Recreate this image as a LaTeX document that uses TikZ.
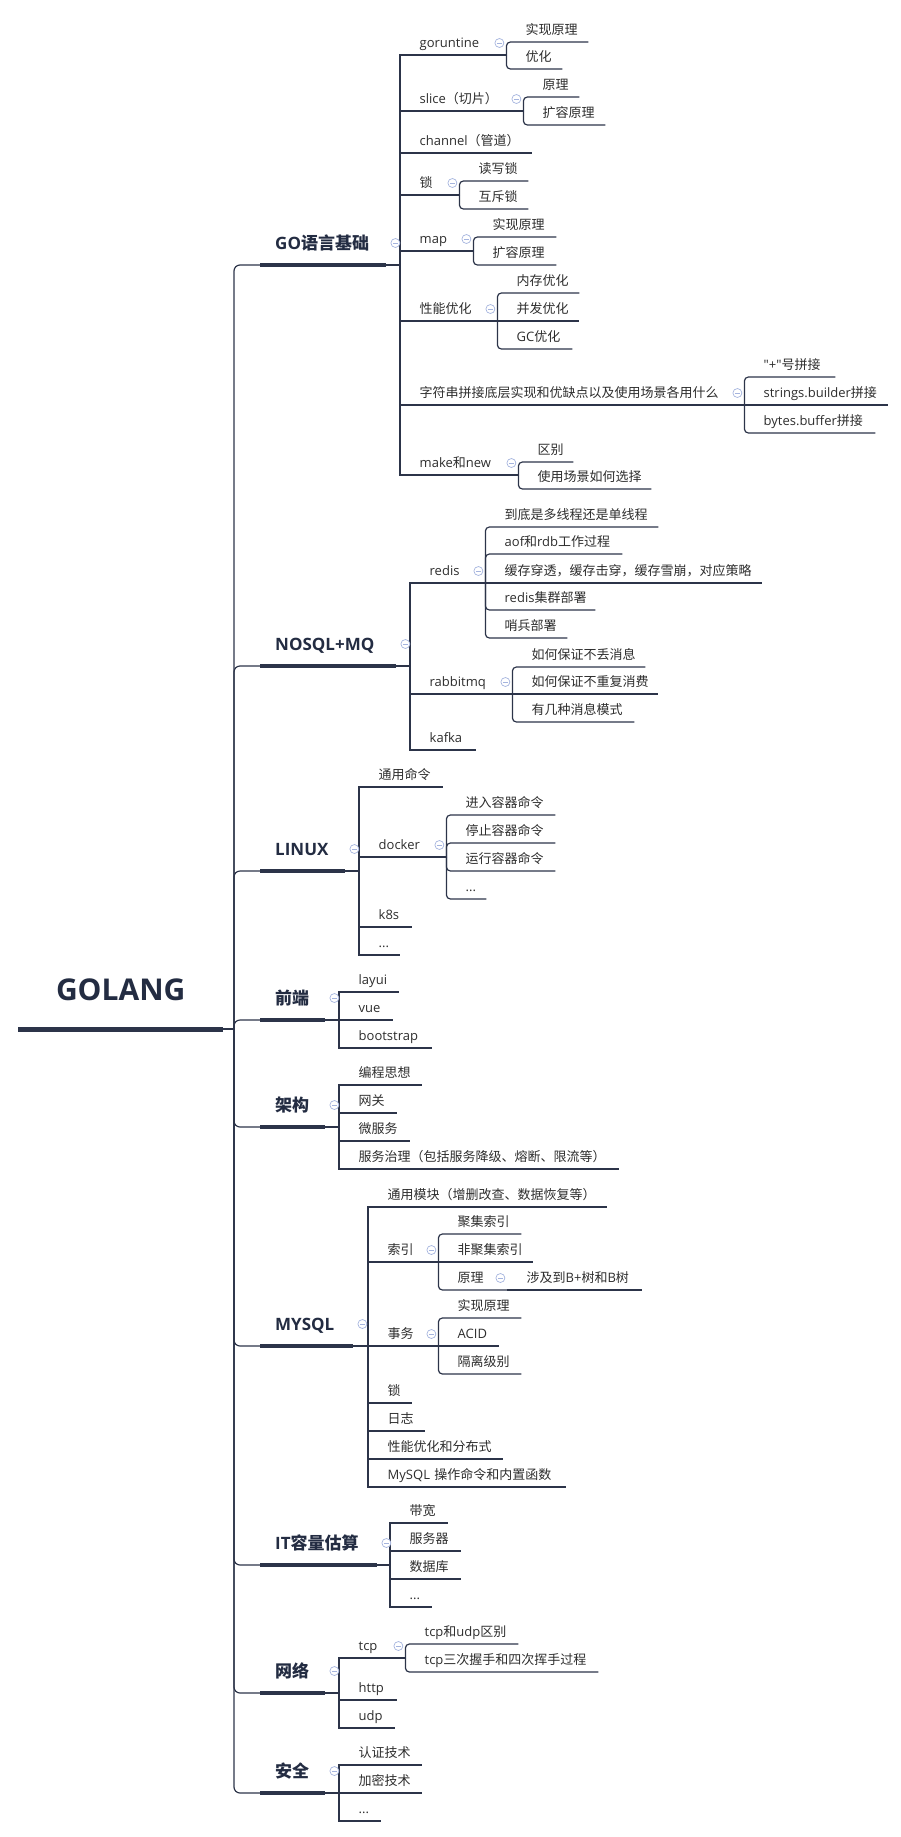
\documentclass[tikz,border=0pt]{standalone}
\usepackage{fontspec}
\setmainfont{Noto Sans CJK SC}
\newfontfamily\lat{Open Sans}
\usepackage{xcolor}
\usepackage{tikz}
\definecolor{ln}{RGB}{44,52,73}
\definecolor{tx}{RGB}{45,45,45}
\definecolor{hd}{RGB}{35,44,66}
\definecolor{fd}{RGB}{165,180,222}
\tikzset{
  root/.style={anchor=south west, inner sep=0pt, text width=#1pt, align=center,
    font=\lat\bfseries\fontsize{30}{34}\selectfont, text=hd, text height=22pt, text depth=28pt},
  branch/.style={anchor=south west, inner sep=0pt, text width=#1pt, align=left,
    font=\bfseries\fontsize{17}{20}\selectfont, text=hd, text height=14pt, text depth=15.5pt,
    execute at begin node={\hspace*{15pt}}},
  topic/.style={anchor=south west, inner sep=0pt, text width=#1pt, align=left,
    font=\fontsize{13}{15}\selectfont, text=tx, text height=10pt, text depth=7pt,
    execute at begin node={\hspace*{19.5pt}}},
  fold/.style={circle, draw=fd, fill=white, line width=0.7pt, minimum size=9pt, inner sep=0pt,
    path picture={\draw[fd, line width=0.7pt] ([xshift=-2.3pt]path picture bounding box.center)
      -- ([xshift=2.3pt]path picture bounding box.center);}},
  link/.style={draw=ln, line width=1.2pt},
  trunk/.style={link, rounded corners=6pt},
  twig/.style={link, rounded corners=4pt},
  bar/.style={draw=ln, line width=4pt},
  rootbar/.style={draw=ln, line width=5pt},
}
\begin{document}
\begin{tikzpicture}[x=1pt,y=-1pt]
\useasboundingbox (0,0) rectangle (901,1837);
% root and main branches
\node[root=205] (golang) at (18,1029) {GOLANG};
\coordinate (hub) at (234,1029);
\node[branch=126] (go) at (260,265) {{\lat GO}语言基础};
\node[branch=136] (nosql) at (260,666) {\lat NOSQL+MQ};
\node[branch=85] (linux) at (260,871) {\lat LINUX};
\node[branch=65] (web) at (260,1020) {前端};
\node[branch=65] (arch) at (260,1127) {架构};
\node[branch=93] (mysql) at (260,1346) {\lat MYSQL};
\node[branch=117] (itcap) at (260,1565) {{\lat IT}容量估算};
\node[branch=65] (net) at (260,1693) {网络};
\node[branch=65] (sec) at (260,1793) {安全};

% GO
\node[topic=106] (gort) at (400,55) {\lat goruntine};
\node[topic=82] (gort1) at (506,42) {实现原理};
\node[topic=56] (gort2) at (506,69) {优化};
\node[topic=123] (slice) at (400,111) {{\lat slice}（切片）};
\node[topic=56] (slice1) at (523,97) {原理};
\node[topic=82] (slice2) at (523,125) {扩容原理};
\node[topic=132] (chan) at (400,153) {{\lat channel}（管道）};
\node[topic=59] (lock) at (400,195) {锁};
\node[topic=69] (lock1) at (459,181) {读写锁};
\node[topic=69] (lock2) at (459,209) {互斥锁};
\node[topic=73] (map) at (400,251) {\lat map};
\node[topic=83] (map1) at (473,237) {实现原理};
\node[topic=83] (map2) at (473,265) {扩容原理};
\node[topic=97] (perf) at (400,321) {性能优化};
\node[topic=82] (perf1) at (497,293) {内存优化};
\node[topic=82] (perf2) at (497,321) {并发优化};
\node[topic=75] (perf3) at (497,349) {{\lat GC}优化};
\node[topic=344] (str) at (400,405) {字符串拼接底层实现和优缺点以及使用场景各用什么};
\node[topic=91] (str1) at (744,377) {{\lat "+"}号拼接};
\node[topic=144] (str2) at (744,405) {{\lat strings.builder}拼接};
\node[topic=131] (str3) at (744,433) {{\lat bytes.buffer}拼接};
\node[topic=118] (mk) at (400,475) {{\lat make}和{\lat new}};
\node[topic=55] (mk1) at (518,462) {区别};
\node[topic=133] (mk2) at (518,489) {使用场景如何选择};

% NOSQL+MQ
\node[topic=75] (redis) at (410,583) {\lat redis};
\node[topic=173] (redis1) at (485,527) {到底是多线程还是单线程};
\node[topic=137] (redis2) at (485,554) {{\lat aof}和{\lat rdb}工作过程};
\node[topic=277] (redis3) at (485,583) {缓存穿透，缓存击穿，缓存雪崩，对应策略};
\node[topic=110] (redis4) at (485,610) {{\lat redis}集群部署};
\node[topic=82] (redis5) at (485,638) {哨兵部署};
\node[topic=102] (rabbit) at (410,694) {\lat rabbitmq};
\node[topic=133] (rabbit1) at (512,667) {如何保证不丢消息};
\node[topic=146] (rabbit2) at (512,694) {如何保证不重复消费};
\node[topic=122] (rabbit3) at (512,722) {有几种消息模式};
\node[topic=66] (kafka) at (410,750) {\lat kafka};

% LINUX
\node[topic=84] (cmd) at (359,787) {通用命令};
\node[topic=87] (docker) at (359,857) {\lat docker};
\node[topic=109] (docker1) at (446,815) {进入容器命令};
\node[topic=109] (docker2) at (446,843) {停止容器命令};
\node[topic=109] (docker3) at (446,871) {运行容器命令};
\node[topic=40] (docker4) at (446,899) {\lat ...};
\node[topic=53] (k8s) at (359,927) {\lat k8s};
\node[topic=41] (lxdots) at (359,955) {\lat ...};

% 前端 / 架构
\node[topic=60] (layui) at (339,992) {\lat layui};
\node[topic=54] (vue) at (339,1020) {\lat vue};
\node[topic=93] (boot) at (339,1048) {\lat bootstrap};
\node[topic=83] (idea) at (339,1085) {编程思想};
\node[topic=58] (gw) at (339,1113) {网关};
\node[topic=71] (micro) at (339,1141) {微服务};
\node[topic=280] (gov) at (339,1169) {服务治理（包括服务降级、熔断、限流等）};

% MYSQL
\node[topic=239] (crud) at (368,1207) {通用模块（增删改查、数据恢复等）};
\node[topic=70] (idx) at (368,1262) {索引};
\node[topic=83] (idx1) at (438,1234) {聚集索引};
\node[topic=95] (idx2) at (438,1262) {非聚集索引};
\node[topic=69] (idx3) at (438,1290) {原理};
\node[topic=135] (bplus) at (507,1290) {涉及到{\lat B+}树和{\lat B}树};
\node[topic=70] (tx) at (368,1346) {事务};
\node[topic=83] (tx1) at (438,1318) {实现原理};
\node[topic=61] (tx2) at (438,1346) {\lat ACID};
\node[topic=83] (tx3) at (438,1374) {隔离级别};
\node[topic=44] (mlock) at (368,1403) {锁};
\node[topic=57] (mlog) at (368,1431) {日志};
\node[topic=135] (dist) at (368,1459) {性能优化和分布式};
\node[topic=198] (func) at (368,1487) {{\lat MySQL} 操作命令和内置函数};

% IT容量估算
\node[topic=58] (bw) at (390,1523) {带宽};
\node[topic=71] (srv) at (390,1551) {服务器};
\node[topic=71] (db) at (390,1579) {数据库};
\node[topic=42] (itdots) at (390,1607) {\lat ...};

% 网络 / 安全
\node[topic=66] (tcp) at (339,1658) {\lat tcp};
\node[topic=113] (tcp1) at (405,1644) {{\lat tcp}和{\lat udp}区别};
\node[topic=193] (tcp2) at (405,1672) {{\lat tcp}三次握手和四次挥手过程};
\node[topic=58] (http) at (339,1700) {\lat http};
\node[topic=56] (udp) at (339,1728) {\lat udp};
\node[topic=83] (auth) at (339,1765) {认证技术};
\node[topic=83] (enc) at (339,1793) {加密技术};
\node[topic=42] (secdots) at (339,1821) {\lat ...};

% spine and bars
\draw[rootbar] (golang.south west) -- (golang.south east);
\draw[link] (golang.south east) -- (hub);
\foreach \br in {go,nosql,linux,web,arch,mysql,itcap,net,sec}{
  \draw[trunk] (hub) |- (\br.south west);
  \draw[bar] (\br.south west) -- (\br.south east);
}

% main branches to topics
\foreach \kid in {gort,slice,chan,lock,map,perf,str,mk}
  \draw[link] (go.south east) -| (\kid.south west) -- (\kid.south east);
\foreach \kid in {redis,rabbit,kafka}
  \draw[link] (nosql.south east) -| (\kid.south west) -- (\kid.south east);
\foreach \kid in {cmd,docker,k8s,lxdots}
  \draw[link] (linux.south east) -| (\kid.south west) -- (\kid.south east);
\foreach \kid in {layui,vue,boot}
  \draw[link] (web.south east) -| (\kid.south west) -- (\kid.south east);
\foreach \kid in {idea,gw,micro,gov}
  \draw[link] (arch.south east) -| (\kid.south west) -- (\kid.south east);
\foreach \kid in {crud,idx,tx,mlock,mlog,dist,func}
  \draw[link] (mysql.south east) -| (\kid.south west) -- (\kid.south east);
\foreach \kid in {bw,srv,db,itdots}
  \draw[link] (itcap.south east) -| (\kid.south west) -- (\kid.south east);
\foreach \kid in {tcp,http,udp}
  \draw[link] (net.south east) -| (\kid.south west) -- (\kid.south east);
\foreach \kid in {auth,enc,secdots}
  \draw[link] (sec.south east) -| (\kid.south west) -- (\kid.south east);

% topics to subtopics
\foreach \kid in {gort1,gort2} \draw[twig] (gort.south east) |- (\kid.south east);
\foreach \kid in {slice1,slice2} \draw[twig] (slice.south east) |- (\kid.south east);
\foreach \kid in {lock1,lock2} \draw[twig] (lock.south east) |- (\kid.south east);
\foreach \kid in {map1,map2} \draw[twig] (map.south east) |- (\kid.south east);
\foreach \kid in {perf1,perf3} \draw[twig] (perf.south east) |- (\kid.south east);
\draw[link] (perf.south east) -- (perf2.south east);
\foreach \kid in {str1,str3} \draw[twig] (str.south east) |- (\kid.south east);
\draw[link] (str.south east) -- (str2.south east);
\foreach \kid in {mk1,mk2} \draw[twig] (mk.south east) |- (\kid.south east);
\foreach \kid in {redis1,redis2,redis4,redis5} \draw[twig] (redis.south east) |- (\kid.south east);
\draw[link] (redis.south east) -- (redis3.south east);
\foreach \kid in {rabbit1,rabbit3} \draw[twig] (rabbit.south east) |- (\kid.south east);
\draw[link] (rabbit.south east) -- (rabbit2.south east);
\foreach \kid in {docker1,docker2,docker3,docker4} \draw[twig] (docker.south east) |- (\kid.south east);
\foreach \kid in {idx1,idx3} \draw[twig] (idx.south east) |- (\kid.south east);
\draw[link] (idx.south east) -- (idx2.south east);
\draw[link] (idx3.south east) -- (bplus.south east);
\foreach \kid in {tx1,tx3} \draw[twig] (tx.south east) |- (\kid.south east);
\draw[link] (tx.south east) -- (tx2.south east);
\foreach \kid in {tcp1,tcp2} \draw[twig] (tcp.south east) |- (\kid.south east);

% fold marks
\foreach \br in {go,nosql,linux,web,arch,mysql,itcap,net,sec}
  \node[fold] (\br-f) at ([xshift=9pt,yshift=22pt]\br.south east) {};
\foreach \kid in {gort,slice,lock,map,perf,str,mk,redis,rabbit,docker,idx,idx3,tx,tcp}
  \node[fold] (\kid-f) at ([xshift=-7pt,yshift=12pt]\kid.south east) {};
\end{tikzpicture}
\end{document}
